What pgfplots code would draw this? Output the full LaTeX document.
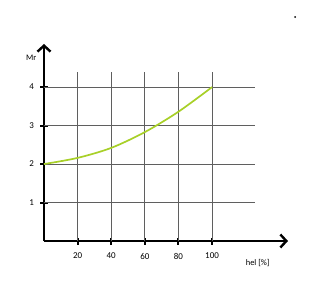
\documentclass[border=0pt]{standalone}
\usepackage{pgfplots}
\pgfplotsset{compat=1.18}
\usepackage{fontspec}
\setmainfont{Carlito}
\usetikzlibrary{arrows.meta}
\definecolor{curve}{RGB}{168,208,40}
\definecolor{gridc}{RGB}{95,95,95}
\begin{document}
\begin{tikzpicture}
\path[use as bounding box] (0,0) rectangle (329bp,-292bp);
\begin{axis}[
  scale only axis,
  width=244bp, height=197bp,
  at={(44bp,-241bp)}, anchor=south west,
  xmin=0, xmax=145.2, ymin=0, ymax=5.12,
  axis x line=bottom, axis y line=left,
  axis line style={black, line width=2.8bp, -{Straight Barb[length=6bp,width=13bp,line width=2.4bp]}},
  xtick={20,40,60,80,100}, ytick={1,2,3,4},
  tick align=center, major tick length=7bp,
  tick style={black, line width=2bp},
  font=\fontsize{9}{10}\selectfont,
  /pgf/number format/assume math mode=true,
  xticklabel style={yshift=-5bp},
  yticklabel style={xshift=-3bp},
  clip=false,
]
\foreach \xv in {20,40,60,80,100} {
  \edef\tmp{\noexpand\draw[gridc, line width=0.7bp] (axis cs:\xv,0) -- (axis cs:\xv,4.39);}
  \tmp
}
\foreach \yv in {1,2,3,4} {
  \edef\tmp{\noexpand\draw[gridc, line width=0.7bp] (axis cs:0,\yv) -- (axis cs:125.6,\yv);}
  \tmp
}
\addplot[curve, line width=1.7bp, smooth, no marks] coordinates {
  (0,2) (20,2.16) (40,2.42) (60,2.83) (80,3.36) (100,4)
};
\node[anchor=east, font=\fontsize{8.5}{9}\selectfont] at (axis cs:-2.5,4.76) {Mr};
\node[anchor=north west, font=\fontsize{8.5}{9}\selectfont] at (axis cs:118,-0.38) {hel [\%]};
\end{axis}
\fill[black] (295bp,-17bp) circle (1bp);
\end{tikzpicture}
\end{document}
